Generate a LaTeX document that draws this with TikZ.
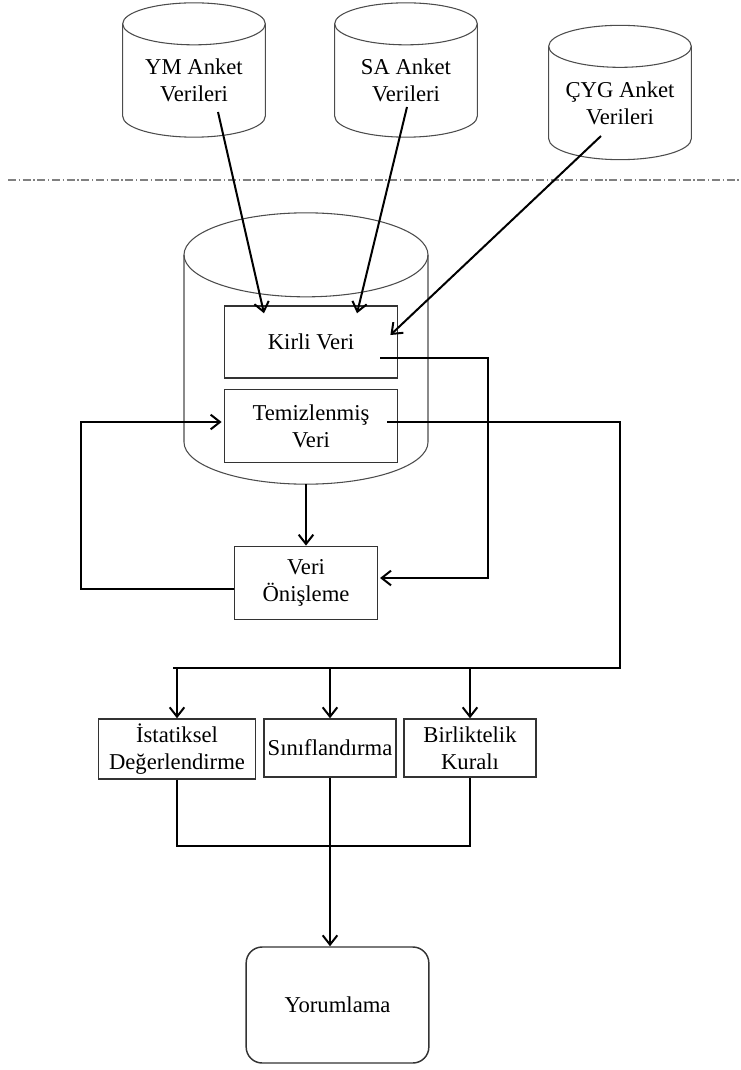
\documentclass[tikz,border=0pt]{standalone}
\usepackage{fontspec}
\setmainfont{Liberation Serif}
\usetikzlibrary{arrows.meta,positioning,calc}

\begin{document}
\begin{tikzpicture}[x=0.75pt,y=-0.75pt,
    box/.style={draw=black!80, line width=1.1pt, align=center, inner sep=2pt},
    db/.style={minimum width=107pt, minimum height=85pt, align=center, inner sep=1pt, outer sep=0pt},
    dbline/.style={draw=black!70, line width=0.8pt},
    line/.style={line width=1.5pt},
    link/.style={line, -{Straight Barb[length=7pt,width=11pt]}},
    font={\fontsize{17}{20}\selectfont}]
  \useasboundingbox (0,0) rectangle (740,1070);

  \node[db] (ym) at (194,80.5) {YM Anket\\Verileri};
  \node[db] (sa) at (406,80.5) {SA Anket\\Verileri};
  \node[db] (cyg) at (620,103) {ÇYG Anket\\Verileri};
  \node[db, minimum width=183pt, minimum height=172pt] (depo) at (306,369.5) {};

  \foreach \n/\rx/\ry in {ym/53.5/15.75, sa/53.5/15.75, cyg/53.5/15.75, depo/91.5/31.5}{
    \draw[dbline] (\n.north) ellipse [x radius=\rx pt, y radius=\ry pt];
    \draw[dbline] (\n.north west) -- ([yshift=\ry pt]\n.south west)
      arc[start angle=180, end angle=360, x radius=\rx pt, y radius=\ry pt] -- (\n.north east);
  }

  \draw[gray, line width=0.8pt, dash pattern=on 6pt off 2pt on 1pt off 2pt] (8,180) -- (740,180);

  \node[box, minimum width=130pt, minimum height=54pt] (kirli) at (311,342) {Kirli Veri};
  \node[box, minimum width=130pt, minimum height=55pt] (temiz) at (311,426) {Temizlenmiş\\Veri};
  \node[box, minimum width=107pt, minimum height=55pt] (onis) at (306,583) {Veri\\Önişleme};

  \draw[link] ($(ym)+(24,31.5)$) -- ($(kirli.north)+(-47,8)$);
  \draw[link] ($(sa)+(1,26.5)$) -- ($(kirli.north)+(46,8)$);
  \draw[link] ($(cyg)+(-19,33)$) -- ($(kirli.east)+(-8,-7)$);

  \draw[link] ($(kirli.east)+(-18,16)$) -- ++(108,0) |- ($(onis.east)+(2,-5)$);
  \draw[link] (depo.south) -- (onis.north);
  \draw[link] ($(onis.west)+(0,6)$) -- ++(-153,0) |- ($(temiz.west)+(-2,-4)$);

  \coordinate (bus) at (173,668);
  \draw[line] ($(temiz.east)+(-11,-4)$) -| (620,668) -- (bus);

  \node[box, minimum width=118pt, minimum height=45pt] (ist) at (177,749) {İstatiksel\\Değerlendirme};
  \node[box, minimum width=99pt, minimum height=43.5pt] (sinif) at (330,748) {Sınıflandırma};
  \node[box, minimum width=99pt, minimum height=43.5pt] (birlik) at (470,748) {Birliktelik\\Kuralı};
  \node[box, rounded corners=12pt, minimum width=137pt, minimum height=87pt] (yorum) at (337.5,1005) {Yorumlama};

  \draw[link] (ist.north |- bus) -- (ist.north);
  \draw[link] (sinif.north |- bus) -- (sinif.north);
  \draw[link] (birlik.north |- bus) -- (birlik.north);

  \draw[line] (ist.south) -- ++(0,66) -| (birlik.south);
  \draw[link] (sinif.south) -- (sinif.south |- yorum.north);
\end{tikzpicture}
\end{document}
